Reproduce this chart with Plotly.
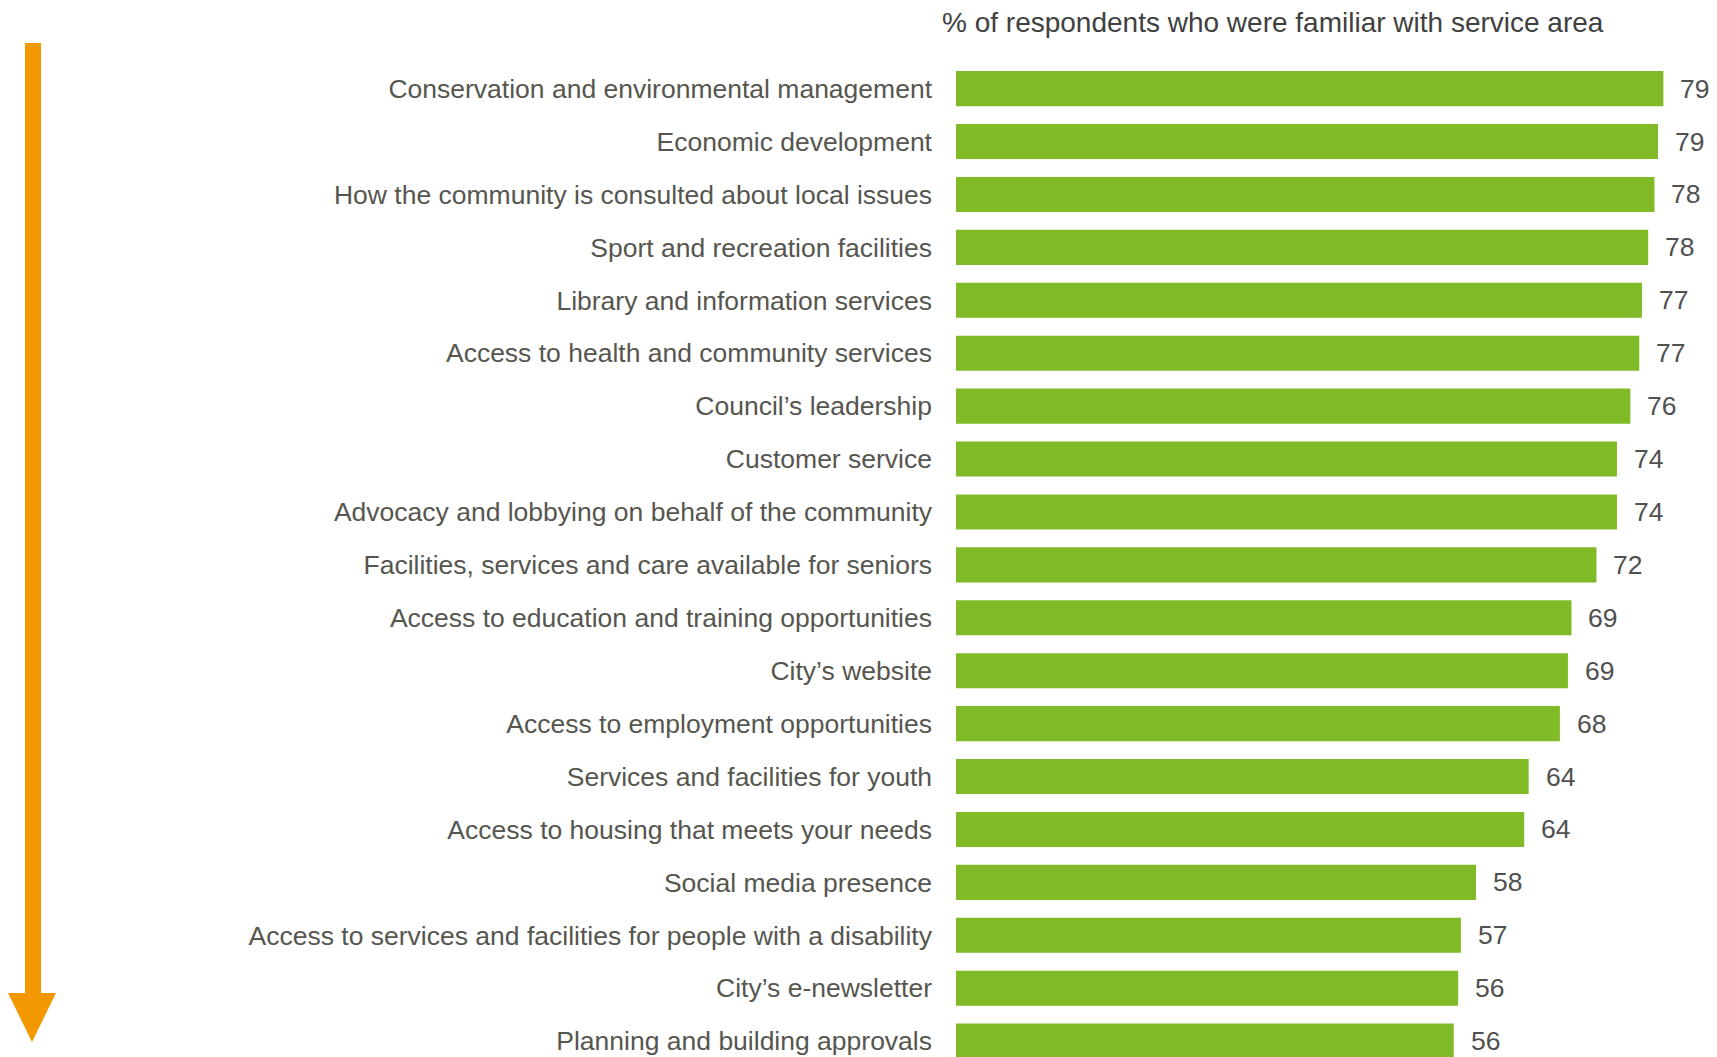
import plotly.graph_objects as go

categories = [
    "Conservation and environmental management",
    "Economic development",
    "How the community is consulted about local issues",
    "Sport and recreation facilities",
    "Library and information services",
    "Access to health and community services",
    "Council\u2019s leadership",
    "Customer service",
    "Advocacy and lobbying on behalf of the community",
    "Facilities, services and care available for seniors",
    "Access to education and training opportunities",
    "City\u2019s website",
    "Access to employment opportunities",
    "Services and facilities for youth",
    "Access to housing that meets your needs",
    "Social media presence",
    "Access to services and facilities for people with a disability",
    "City\u2019s e-newsletter",
    "Planning and building approvals",
]
values = [79.3, 78.7, 78.3, 77.6, 76.9, 76.6, 75.6, 74.1, 74.1, 71.8,
          69.0, 68.6, 67.7, 64.2, 63.7, 58.3, 56.6, 56.3, 55.8]
title_text = "% of respondents who were familiar with service area"

# page body has an 8px margin; figure sized to the remaining window
OFF = 8
W, H = 1717 - OFF, 1057 - OFF
L = 956 - OFF
T = 50 - OFF
R, B = 0, 0
PW, PH = W - L - R, H - T - B

TEXT = "#56564f"
TITLE = "#404040"
VALUE = "#505050"
GREEN = "#80BA27"
ORANGE = "#F39800"
FONT = "Arial, Liberation Sans, sans-serif"

fig = go.Figure()
fig.add_trace(go.Bar(
    x=values, y=categories, orientation="h",
    marker=dict(color=GREEN, line=dict(width=0)),
    hoverinfo="skip",
))

for c, v in zip(categories, values):
    fig.add_annotation(x=v, y=c, xref="x", yref="y", text=f"{round(v)}",
                       showarrow=False, xanchor="left", yanchor="middle",
                       xshift=15, font=dict(size=26.5, color=VALUE, family=FONT))

def px(x):  # reference window pixel -> paper
    return (x - OFF - L) / PW

def py(y):
    return (H - B - (y - OFF)) / PH

# decorative arrow on the left
path = (f"M {px(25)},{py(43)} L {px(41)},{py(43)} L {px(41)},{py(993)} "
        f"L {px(56)},{py(993)} L {px(32)},{py(1042)} L {px(8)},{py(993)} "
        f"L {px(25)},{py(993)} Z")
fig.add_shape(type="path", path=path, xref="paper", yref="paper",
              fillcolor=ORANGE, line=dict(width=0), layer="above")

fig.update_layout(
    width=W, height=H,
    margin=dict(l=L, r=R, t=T, b=B, autoexpand=False),
    paper_bgcolor="white", plot_bgcolor="white",
    bargap=0.338,
    showlegend=False,
    title=dict(text=title_text, xref="container", yref="container",
               x=(942 - OFF) / W, xanchor="left", y=1 - (22 - OFF) / H,
               yanchor="middle",
               font=dict(size=28, color=TITLE, family=FONT)),
    xaxis=dict(range=[0, PW / 8.92], visible=False, fixedrange=True),
    yaxis=dict(categoryorder="array", categoryarray=categories,
               range=[18.30, -0.73], showgrid=False, zeroline=False,
               showline=False, ticks="", ticklabelstandoff=23,
               automargin=False,
               tickfont=dict(size=26.5, color=TEXT, family=FONT)),
    font=dict(family=FONT, color=TEXT),
)

fig.write_html("out.html")
